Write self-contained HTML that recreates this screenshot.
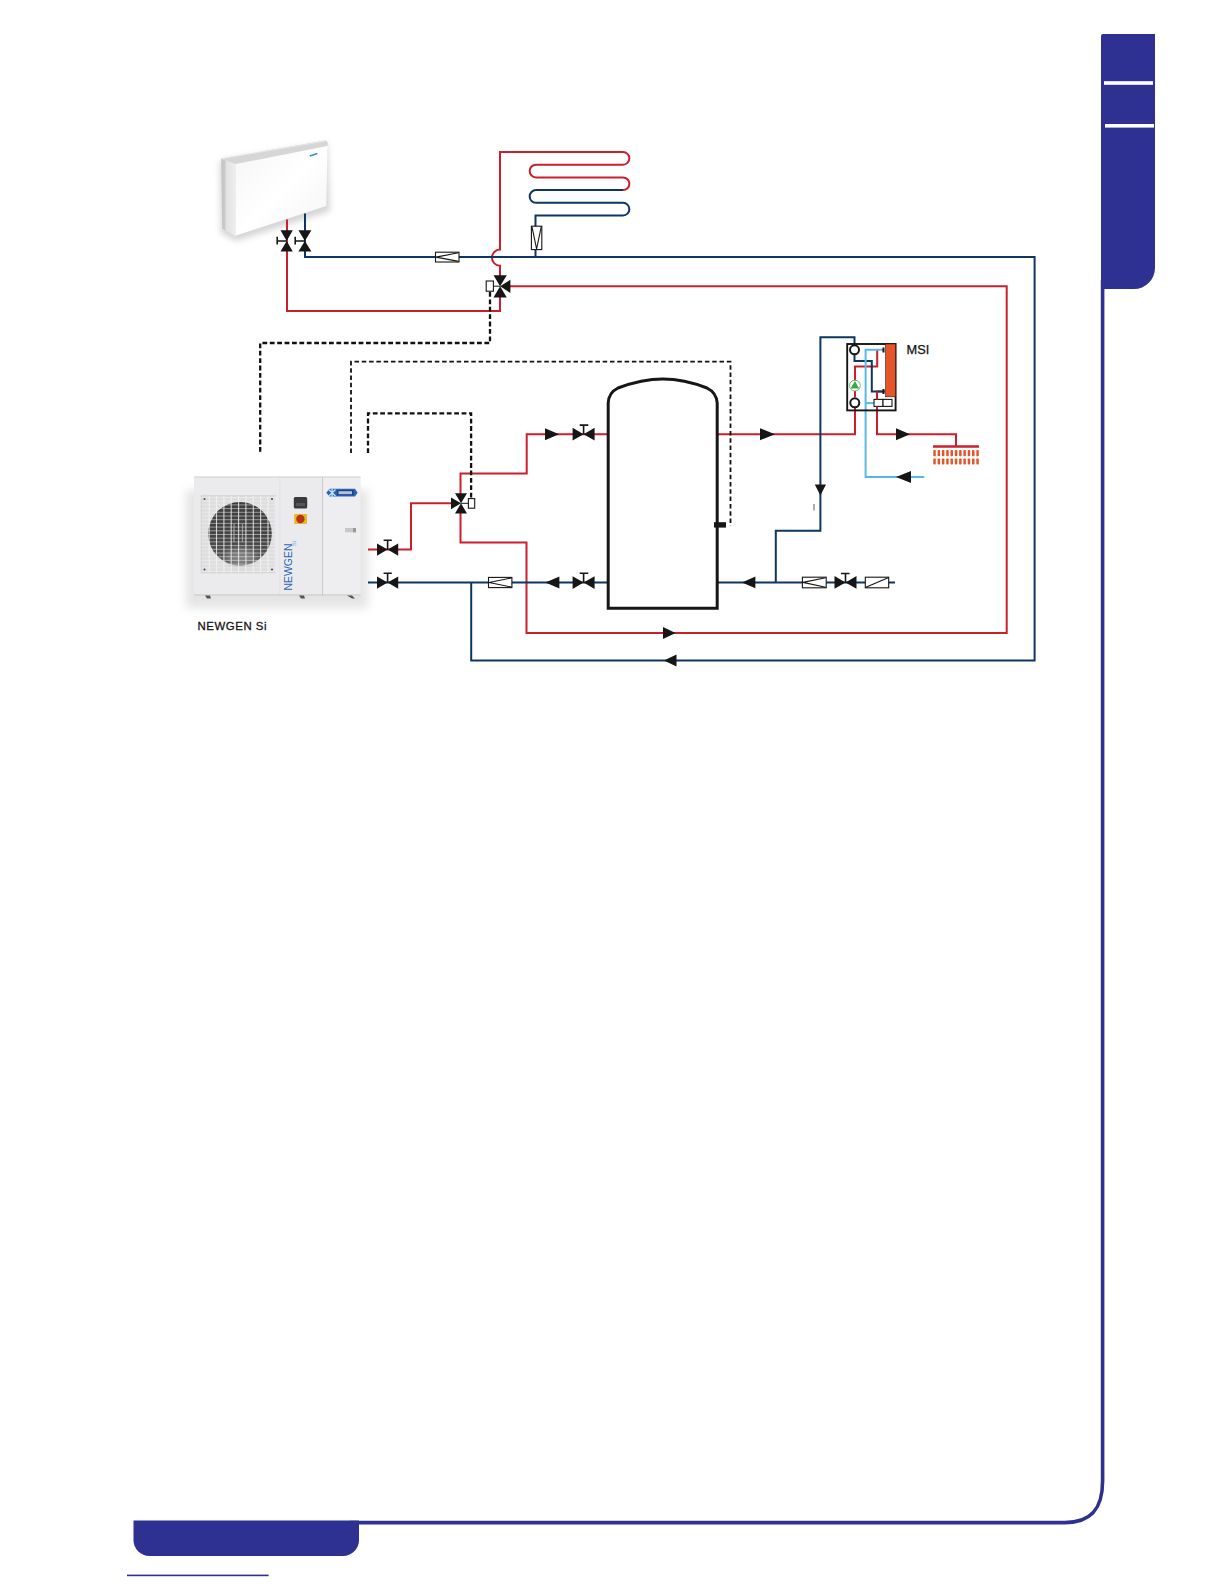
<!DOCTYPE html>
<html><head><meta charset="utf-8">
<style>
html,body{margin:0;padding:0;background:#fff;width:1224px;height:1584px;overflow:hidden}
svg{display:block;position:absolute;left:0;top:0}
text{font-family:"Liberation Sans",sans-serif}
</style></head>
<body>
<svg width="1224" height="1584" viewBox="0 0 1224 1584">
<defs>
 <filter id="blur2" x="-50%" y="-50%" width="200%" height="200%"><feGaussianBlur stdDeviation="3"/></filter>
 <filter id="blur5" x="-50%" y="-50%" width="200%" height="200%"><feGaussianBlur stdDeviation="5"/></filter>
 <filter id="blur1" x="-50%" y="-50%" width="200%" height="200%"><feGaussianBlur stdDeviation="1.2"/></filter>
 <marker id="dummy"/>
</defs>

<!-- ===== PAGE FRAME ===== -->
<path d="M1103,34 H1155 V268 A21,21 0 0 1 1134,289 H1101 V36 A2,2 0 0 1 1103,34 Z" fill="#2e3192"/>
<path d="M1102.6,280 V1481 C1102.6,1509 1091,1522.6 1065,1522.6 H350" fill="none" stroke="#2e3192" stroke-width="3.6"/>
<path d="M133.5,1520.6 H359 V1540 A16,16 0 0 1 343,1556 H149.5 A16,16 0 0 1 133.5,1540 Z" fill="#2e3192"/>
<rect x="1104" y="81.2" width="49" height="3.6" fill="#fff"/>
<rect x="1105" y="124" width="49" height="3.6" fill="#fff"/>
<rect x="127" y="1574.6" width="141.6" height="1.6" fill="#2e3192"/>

<!-- ===== FAN COIL ===== -->
<defs>
 <linearGradient id="fcFront" x1="0" y1="0" x2="1" y2="1">
  <stop offset="0" stop-color="#f6f6f6"/><stop offset="0.5" stop-color="#ffffff"/><stop offset="1" stop-color="#f4f4f4"/>
 </linearGradient>
 <linearGradient id="fcSide" x1="0" y1="0" x2="1" y2="0">
  <stop offset="0" stop-color="#c4c4c4"/><stop offset="0.25" stop-color="#c9c9c9"/><stop offset="0.35" stop-color="#e2e2e2"/><stop offset="1" stop-color="#eeeeee"/>
 </linearGradient>
 <linearGradient id="fanG" x1="0" y1="0" x2="0" y2="1">
  <stop offset="0" stop-color="#3e3e3e"/><stop offset="0.6" stop-color="#454545"/><stop offset="1" stop-color="#5e5e5e"/>
 </linearGradient>
 <linearGradient id="hpShadow" x1="0" y1="0" x2="0" y2="1">
  <stop offset="0" stop-color="#9a9a9a"/><stop offset="1" stop-color="#ffffff" stop-opacity="0"/>
 </linearGradient>
</defs>
<g>
 <path d="M220,161 L327,143 L330,211 L236,241 L221,233 Z" fill="#b8b8b8" opacity="0.6" filter="url(#blur2)"/>
 <path d="M221.2,158.7 L325,140.6 Q327.8,141 327.8,144 L327.5,146 L235.5,164 Z" fill="#d6d6d6"/>
 <path d="M222,158.6 L325,141.2" stroke="#e6e6e6" stroke-width="1"/>
 <path d="M221.2,158.7 L235.5,164 L235.5,236.2 L222.2,228.8 Z" fill="url(#fcSide)"/>
 <path d="M235.5,164 L327.5,146 L326.2,206.5 L235.5,236.2 Z" fill="url(#fcFront)"/>
 <path d="M235.5,236.2 L326.2,206.5" stroke="#d8d8d8" stroke-width="1"/>
 <path d="M309.8,156 L317.3,153.6" stroke="#2f8fd8" stroke-width="1.6"/>
</g>
<!-- ===== HEAT PUMP ===== -->
<g>
 <rect x="186" y="490" width="182" height="118" fill="#c4c4c4" opacity="0.45" filter="url(#blur5)"/>
 <rect x="194" y="476.5" width="166.5" height="119" fill="#ebebed"/>
 <rect x="322.6" y="477" width="37.6" height="118.5" fill="#eeeef0"/>
 <path d="M322.6,477 V595.5" stroke="#b4b4b4" stroke-width="0.6"/>
 <path d="M279.8,477 V595.5" stroke="#dedee0" stroke-width="0.6"/>
 <path d="M194,477 H360.5" stroke="#d4d4d6" stroke-width="1"/>
 <path d="M194,595 H360.5" stroke="#c4c4c4" stroke-width="1"/>
 <!-- grille -->
 <rect x="201.2" y="495.8" width="74.2" height="77" fill="#dedede" stroke="#cdcdcd" stroke-width="0.8"/>
 <circle cx="240" cy="533.8" r="31.8" fill="url(#fanG)"/>
 <ellipse cx="241" cy="557" rx="15" ry="9" fill="#a0a0a0" opacity="0.55" filter="url(#blur2)"/>
 <g stroke="#f4f4f4" stroke-width="0.9" opacity="0.55">
  <path d="M201.5,497.5 H275"/>
  <path d="M201.5,501.2 H275"/>
  <path d="M201.5,504.9 H275"/>
  <path d="M201.5,508.6 H275"/>
  <path d="M201.5,512.3 H275"/>
  <path d="M201.5,516.0 H275"/>
  <path d="M201.5,519.7 H275"/>
  <path d="M201.5,523.4 H275"/>
  <path d="M201.5,527.1 H275"/>
  <path d="M201.5,530.8 H275"/>
  <path d="M201.5,534.5 H275"/>
  <path d="M201.5,538.2 H275"/>
  <path d="M201.5,541.9 H275"/>
  <path d="M201.5,545.6 H275"/>
  <path d="M201.5,549.3 H275"/>
  <path d="M201.5,553.0 H275"/>
  <path d="M201.5,556.7 H275"/>
  <path d="M201.5,560.4 H275"/>
  <path d="M201.5,564.1 H275"/>
  <path d="M201.5,567.8 H275"/>
  <path d="M201.5,571.5 H275"/>
 </g>
 <g stroke="#f4f4f4" stroke-width="1.1" opacity="0.8">
  <path d="M209.2,496 V572.5"/>
  <path d="M216.5,496 V572.5"/>
  <path d="M223.9,496 V572.5"/>
  <path d="M231.2,496 V572.5"/>
  <path d="M238.6,496 V572.5"/>
  <path d="M245.9,496 V572.5"/>
  <path d="M253.3,496 V572.5"/>
  <path d="M260.6,496 V572.5"/>
  <path d="M268.0,496 V572.5"/>
  <path d="M275.3,496 V572.5"/>
 </g>
 <path d="M234,524 V542 M242.5,524 V542" stroke="#bdbdbd" stroke-width="1.2" opacity="0.7"/>
 <g fill="#444"><circle cx="204.5" cy="499" r="1"/><circle cx="272" cy="499" r="1"/><circle cx="204.5" cy="569.5" r="1"/><circle cx="272" cy="569.5" r="1"/></g>
 <!-- display + switch -->
 <rect x="293.8" y="497" width="13.4" height="11.5" rx="1.5" fill="#3a3a3a"/>
 <rect x="296" y="503" width="9" height="3" fill="#555"/>
 <rect x="294.2" y="514" width="12.8" height="10" rx="1" fill="#e7b92a"/>
 <circle cx="300.4" cy="519" r="4.2" fill="#b83418"/>
 <!-- logo -->
 <path d="M326.3,492.7 L329.5,488.8 H355 L357.6,492.7 L355,496.6 H329.5 Z" fill="#2a63b6"/>
 <path d="M337,490.2 H353.5 V495.2 H337 Z" fill="#1c3f86"/>
 <rect x="338.5" y="491.2" width="13.5" height="3" fill="#e6eef8" opacity="0.75"/>
 <path d="M328.8,489.5 L335.5,496 M335.5,489.5 L328.8,496 M332.1,488.6 V497" stroke="#bfe2fa" stroke-width="1.3"/>
 <!-- handle -->
 <rect x="345" y="528" width="11" height="4.3" fill="#c8c8c8"/>
 <rect x="353" y="528" width="3" height="4.3" fill="#999"/>
 <!-- NEWGEN vertical text -->
 <text transform="translate(292.4,590.5) rotate(-90)" font-size="11.5" fill="#2a66b8" textLength="47" lengthAdjust="spacingAndGlyphs" style="font-family:'Liberation Sans',sans-serif">NEWGEN</text>
 <text transform="translate(296.2,546) rotate(-90)" font-size="5.5" fill="#6aa6dc" style="font-family:'Liberation Sans',sans-serif">Si</text>
 <!-- feet -->
 <path d="M205,595.5 L207,598.5 H211 L210,595.5 Z M299,595.5 L301,598.5 H305 L304,595.5 Z M347,595.5 L352,598.5 H355 L352,595.5 Z" fill="#555"/>
</g>
<!-- ===== PIPES ===== -->
<g fill="none" stroke-width="2" stroke-linejoin="miter">
 <!-- red -->
 <g stroke="#cc1f2d">
  <path d="M287,219.5 V311 H500 V296"/>
  <path d="M500,276 V265.7 A8,8 0 0 1 500,249.6 V152 H623 A6.35,6.35 0 0 1 623,164.7 H536 A6.35,6.35 0 0 0 536,177.4 H623 A6.35,6.35 0 0 1 623,190.1"/>
  <path d="M510,286.2 H1006.7 V633 H526.5 V542.6 H460.5 V512"/>
  <path d="M368,549.6 H411 V503.3 H452"/>
  <path d="M460.5,494 V473.5 H526.7 V434.2 H608"/>
  <path d="M717,434.2 H855 V408"/>
  <path d="M877,404 V434.2 H956 V446.5"/>
  <path d="M855,397 V366.4 H877.2 V350"/>
  <path d="M877,406 V391.4 H885"/>
 </g>
 <!-- dark blue -->
 <g stroke="#0d3762">
  <path d="M623,190.1 H536 A6.35,6.35 0 0 0 536,202.8 H623 A6.35,6.35 0 0 1 623,215.5 H535.5 V257"/>
  <path d="M305,213.5 V257 H1034.6 V660.5 H471.2 V582.5"/>
  <path d="M368,582.5 H608"/>
  <path d="M717,582.4 H895"/>
  <path d="M775.8,582.4 V530.7 H820.4 V337.2 H854.5 V345"/>
  <path d="M854.5,355 V360.9 H871.8 V391.4 H884"/>
 </g>
 <!-- light blue -->
 <g stroke="#5ab8e4">
  <path d="M884,349.8 H865.6 V477 H924.3"/>
  <path d="M865.6,403.1 H874"/>
 </g>
 <!-- radiator bar -->
 <path d="M933,446.5 H979" stroke="#cc1f2d" stroke-width="2.6"/>
</g>
<!-- dashed control lines -->
<g fill="none" stroke="#111">
 <path d="M490,292 V343 H260.2 V453" stroke-width="2.3" stroke-dasharray="4.8 2.6"/>
 <path d="M351,453 V361.6 H730.5 V526" stroke-width="1.8" stroke-dasharray="4.5 2.8"/>
 <path d="M368,453 V413.4 H471.1 V498.6" stroke-width="2.3" stroke-dasharray="4.8 2.6"/>
</g>
<!-- ===== COMPONENTS ===== -->
<g fill="#161616" stroke="none">
 <!-- FC vertical butterfly valves -->
 <path d="M280.5,230.3 H292.8 L286.7,241 Z M280.5,251.6 H292.8 L286.7,241 Z"/>
 <path d="M298.4,230.3 H311.4 L304.9,241 Z M298.4,251.6 H311.4 L304.9,241 Z"/>
 <!-- horizontal valves with T handles -->
 <g id="hv1" transform="translate(387.6,549.6)"><path d="M-10.6,-6.2 V6.2 L0,0 Z M10.6,-6.2 V6.2 L0,0 Z"/></g>
 <g transform="translate(387.6,582.6)"><path d="M-10.6,-6.2 V6.2 L0,0 Z M10.6,-6.2 V6.2 L0,0 Z"/></g>
 <g transform="translate(583.6,434.2)"><path d="M-11,-6.4 V6.4 L0,0 Z M11,-6.4 V6.4 L0,0 Z"/></g>
 <g transform="translate(583.6,582.6)"><path d="M-11,-6.4 V6.4 L0,0 Z M11,-6.4 V6.4 L0,0 Z"/></g>
 <g transform="translate(845.5,582.4)"><path d="M-11,-6.4 V6.4 L0,0 Z M11,-6.4 V6.4 L0,0 Z"/></g>
 <!-- arrows -->
 <path d="M545,428.2 V440.2 L559,434.2 Z"/>
 <path d="M559.4,576.6 V588.4 L545.4,582.5 Z"/>
 <path d="M760,428.2 V440.2 L775,434.2 Z"/>
 <path d="M755.4,576.6 V588.2 L742,582.4 Z"/>
 <path d="M814.8,484.5 H826 L820.4,495.5 Z"/>
 <path d="M896,428.2 V440.2 L910,434.2 Z"/>
 <path d="M911,471 V483 L896,477 Z"/>
 <path d="M663,627 V639 L675.6,633 Z"/>
 <path d="M676.5,654.5 V666.5 L664,660.5 Z"/>
 <!-- 3-way valve 1 -->
 <path d="M493.5,275.3 H506.8 L500.1,286.2 Z M493.5,297.4 H506.8 L500.1,286.2 Z M510.4,279.7 V293 L500.1,286.2 Z"/>
 <!-- 3-way valve 2 -->
 <path d="M455,493.3 H467 L461,503.3 Z M455,513.5 H467 L461,503.3 Z M451,497.5 V509.2 L461,503.3 Z"/>
 <!-- tank sensor -->
 <rect x="714" y="522.2" width="12" height="5.4"/>
</g>
<g fill="none" stroke="#161616" stroke-width="1.6">
 <!-- FC valve handles -->
 <path d="M277.2,241 H286.7 M277.2,236.7 V244.6"/>
 <path d="M295.2,241 H304.9 M295.2,236.7 V244.6"/>
 <!-- T handles -->
 <path d="M387.6,549.6 V540 M383.6,540.3 H391.8"/>
 <path d="M387.6,582.6 V573 M383.6,573.3 H391.8"/>
 <path d="M583.6,434.2 V424.8 M579.7,425.1 H588.3"/>
 <path d="M583.6,582.6 V573 M579.7,573.3 H588.3"/>
 <path d="M845.5,582.4 V573.2 M841,573.5 H849.6"/>
</g>
<!-- check valves / filters -->
<g fill="#fff" stroke="#161616" stroke-width="1.1">
 <rect x="435.5" y="252.2" width="23.5" height="9.8"/>
 <path d="M436,257.1 L458.5,252.8 M436,257.1 L458.5,261.4" fill="none"/>
 <rect x="531.4" y="226.2" width="10.4" height="23.4"/>
 <path d="M536.6,249 L532,226.8 M536.6,249 L541.2,226.8" fill="none"/>
 <rect x="488.5" y="577.4" width="23.4" height="10.2"/>
 <path d="M489,582.5 L511.4,578 M489,582.5 L511.4,587" fill="none"/>
 <rect x="802.4" y="577.2" width="23.8" height="10.6"/>
 <path d="M803,582.4 L825.6,577.8 M803,582.4 L825.6,587.2" fill="none"/>
 <rect x="865.3" y="577.2" width="23.4" height="10.6"/>
 <path d="M865.9,587.2 L888.1,577.8" fill="none"/>
 <!-- actuators -->
 <rect x="486.2" y="281" width="7.2" height="10.2"/>
 <rect x="468.4" y="498.6" width="6.3" height="9.6"/>
</g>
<path d="M493.4,286.2 H500 M468.4,503.3 H461" stroke="#161616" stroke-width="1"/>
<!-- tank -->
<path d="M608.2,608.2 V403 C608.5,396 612,391 618,388 C650,376 676,376 707,388 C713,391 716.7,396 717.2,403 V608.2 Z" fill="none" stroke="#161616" stroke-width="3"/>
<!-- small tick -->
<path d="M814,504 V510.5" stroke="#333" stroke-width="0.8"/>
<!-- ===== MSI ===== -->
<rect x="847.2" y="344" width="48.4" height="66.4" fill="none" stroke="#161616" stroke-width="1.9"/>
<rect x="885.6" y="344" width="10" height="52.8" fill="#e8542a" stroke="#2a1a1a" stroke-width="0.6"/>
<path d="M883.5,347.5 V352.5 M883.5,389 V394" stroke="#161616" stroke-width="2"/>
<g fill="#fff" stroke="#161616" stroke-width="2">
 <circle cx="854.5" cy="349.8" r="4.5"/>
 <circle cx="854.8" cy="402.8" r="4.5"/>
</g>
<circle cx="854.9" cy="385.6" r="5.4" fill="#fff" stroke="#5cb85c" stroke-width="0.9"/>
<path d="M850.6,388.6 H859.2 L854.9,381 Z" fill="#3ea84a"/>
<g fill="#fff" stroke="#161616" stroke-width="1.1">
 <rect x="874" y="399.4" width="9" height="7"/>
 <rect x="883" y="399.4" width="9" height="7"/>
</g>
<path d="M877,399.4 V391.4 M877,406.4 V409" stroke="#cc1f2d" stroke-width="2"/>
<text x="906.6" y="353.6" font-size="12.8" fill="#111" stroke="#111" stroke-width="0.25" style="font-family:'Liberation Sans',sans-serif">MSI</text>
<!-- radiator -->
<g fill="#e8542a">
 <rect x="933.3" y="450" width="2.5" height="6.2" rx="0.8"/>
 <rect x="933.3" y="458.4" width="2.5" height="6.2" rx="0.8"/>
 <rect x="937.6" y="450" width="2.5" height="6.2" rx="0.8"/>
 <rect x="937.6" y="458.4" width="2.5" height="6.2" rx="0.8"/>
 <rect x="941.9" y="450" width="2.5" height="6.2" rx="0.8"/>
 <rect x="941.9" y="458.4" width="2.5" height="6.2" rx="0.8"/>
 <rect x="946.2" y="450" width="2.5" height="6.2" rx="0.8"/>
 <rect x="946.2" y="458.4" width="2.5" height="6.2" rx="0.8"/>
 <rect x="950.5" y="450" width="2.5" height="6.2" rx="0.8"/>
 <rect x="950.5" y="458.4" width="2.5" height="6.2" rx="0.8"/>
 <rect x="954.8" y="450" width="2.5" height="6.2" rx="0.8"/>
 <rect x="954.8" y="458.4" width="2.5" height="6.2" rx="0.8"/>
 <rect x="959.1" y="450" width="2.5" height="6.2" rx="0.8"/>
 <rect x="959.1" y="458.4" width="2.5" height="6.2" rx="0.8"/>
 <rect x="963.4" y="450" width="2.5" height="6.2" rx="0.8"/>
 <rect x="963.4" y="458.4" width="2.5" height="6.2" rx="0.8"/>
 <rect x="967.7" y="450" width="2.5" height="6.2" rx="0.8"/>
 <rect x="967.7" y="458.4" width="2.5" height="6.2" rx="0.8"/>
 <rect x="972.0" y="450" width="2.5" height="6.2" rx="0.8"/>
 <rect x="972.0" y="458.4" width="2.5" height="6.2" rx="0.8"/>
 <rect x="976.3" y="450" width="2.5" height="6.2" rx="0.8"/>
 <rect x="976.3" y="458.4" width="2.5" height="6.2" rx="0.8"/>
</g>
<!-- labels -->
<text x="197.6" y="629.8" font-size="11.4" fill="#141414" stroke="#141414" stroke-width="0.3" style="font-family:'Liberation Sans',sans-serif" letter-spacing="0.55">NEWGEN Si</text>
</svg>
</body></html>
